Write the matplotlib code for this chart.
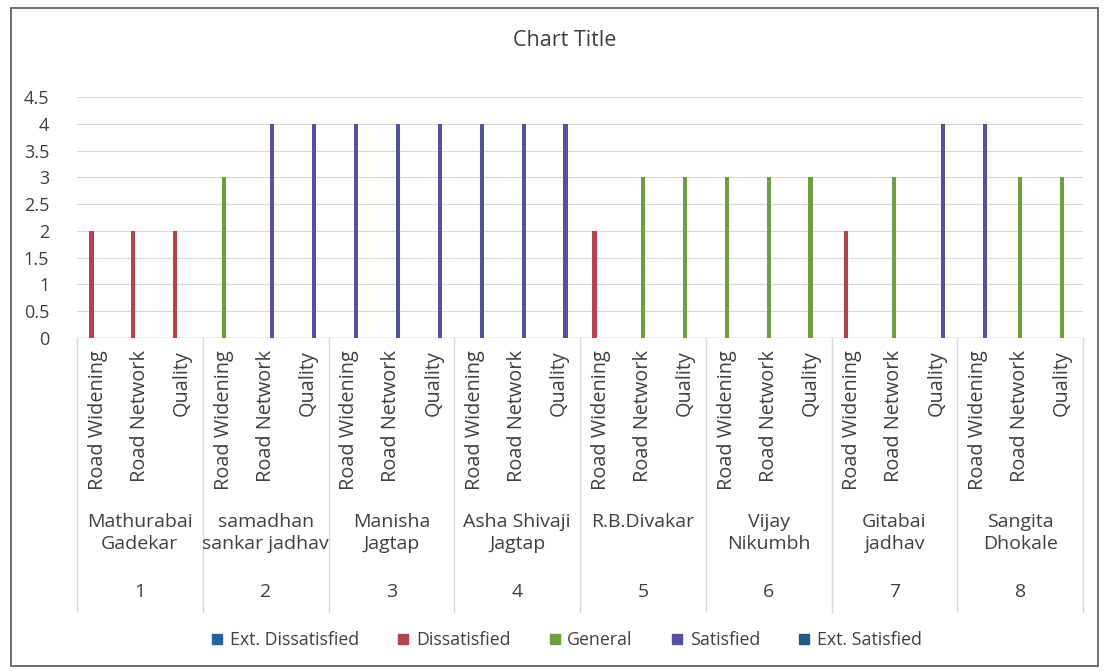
import matplotlib
matplotlib.use('Agg')
import matplotlib.pyplot as plt
import matplotlib.transforms as mtransforms
from matplotlib.patches import Rectangle
from matplotlib.lines import Line2D
import numpy as np

plt.rcParams['font.family'] = ['Open Sans', 'DejaVu Sans']

# data
names = ['Mathurabai\nGadekar', 'samadhan\nsankar jadhav', 'Manisha\nJagtap', 'Asha Shivaji\nJagtap',
         'R.B.Divakar\n', 'Vijay\nNikumbh', 'Gitabai\njadhav', 'Sangita\nDhokale']
numbers = ['1', '2', '3', '4', '5', '6', '7', '8']
aspects = ['Road Widening', 'Road Network', 'Quality']
scores = [2, 2, 2,
          3, 4, 4,
          4, 4, 4,
          4, 4, 4,
          2, 3, 3,
          3, 3, 3,
          2, 3, 4,
          4, 3, 3]
series_names = ['Ext. Dissatisfied', 'Dissatisfied', 'General', 'Satisfied', 'Ext. Satisfied']
series_levels = [1, 2, 3, 4, 5]
bar_colors = ['#24649C', '#B8404F', '#6E9E3E', '#5450A8', '#1F5E80']
txt = '#404040'

W, H = 1105, 671
fig = plt.figure(figsize=(W / 100, H / 100), dpi=100)
fig.patches.append(Rectangle((11 / W, 1 - 666 / H), 1087 / W, 658 / H, transform=fig.transFigure,
                             fill=False, edgecolor='#6E6E6E', linewidth=1.4))

ax = fig.add_axes([77 / W, 1 - 338 / H, 1006 / W, 241 / H])
n = len(scores)
x = np.arange(n)
offset = 0.155
for s, (lvl, col) in enumerate(zip(series_levels, bar_colors)):
    vals = np.array([v if v == lvl else 0 for v in scores], dtype=float)
    ax.bar(x + (s - 2) * offset, vals, width=0.1, color=col, zorder=3)

ax.set_xlim(-0.5, n - 0.5)
ax.set_ylim(0, 4.5)
ticks = np.arange(0, 4.51, 0.5)
ax.set_yticks(ticks)
ax.set_yticklabels(['%g' % t for t in ticks], fontsize=13, color=txt)
ax.tick_params(axis='y', length=0, pad=20)
ax.set_xticks([])
ax.grid(axis='y', color='#D9D9D9', linewidth=0.8, zorder=0)
for sp in ax.spines.values():
    sp.set_visible(False)
ax.axhline(0, color='#BFBFBF', linewidth=1, zorder=2)

trans = mtransforms.blended_transform_factory(ax.transData, fig.transFigure)

# subcategory labels
for i in range(n):
    ax.text(i, 1 - 350 / H, aspects[i % 3], transform=trans, rotation=90, ha='center', va='top',
            fontsize=14.3, color=txt)

# group separators and labels
for g in range(len(names) + 1):
    xb = g * 3 - 0.5
    ax.plot([xb, xb], [1 - 338 / H, 1 - 612 / H], transform=trans, color='#D9D9D9',
            linewidth=1, clip_on=False)
for g in range(len(names)):
    xc = g * 3 + 1
    ax.text(xc, 1 - 533 / H, names[g], transform=trans, ha='center', va='center',
            fontsize=14, color=txt, linespacing=1.25)
    ax.text(xc, 1 - 592 / H, numbers[g], transform=trans, ha='center', va='center',
            fontsize=14, color=txt)

fig.text(565 / W, 1 - 40 / H, 'Chart Title', ha='center', va='center', fontsize=15.5, color=txt)

handles = [Line2D([], [], marker='s', linestyle='none', markersize=7, color=c) for c in bar_colors]
fig.legend(handles, series_names, loc='center', bbox_to_anchor=(566 / W, 1 - 640 / H), ncol=5,
           frameon=False, fontsize=12.8, handlelength=0.8, handletextpad=0.3, columnspacing=2.1,
           labelcolor=txt)

fig.savefig('out.png', dpi=100)
